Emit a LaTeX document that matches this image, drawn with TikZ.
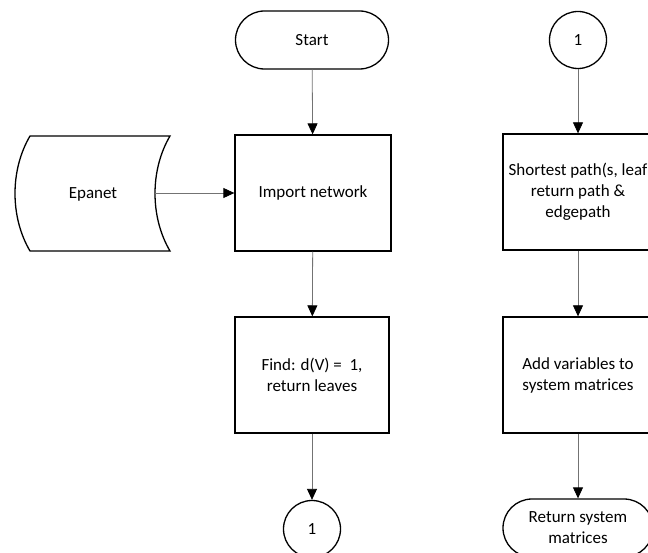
\documentclass[tikz,border=0pt]{standalone}
\usepackage{fontspec}
\setmainfont{Carlito}
\usetikzlibrary{arrows.meta,shapes.misc}
\begin{document}
\begin{tikzpicture}[x=1pt,y=-1pt,
  every node/.style={font=\fontsize{17}{21}\selectfont, align=center, inner sep=0pt},
  shape line/.style={draw=black, line width=1.3pt},
  procbox/.style={shape line, rectangle, minimum width=156pt, minimum height=116pt},
  termbox/.style={shape line, rounded rectangle, minimum width=153pt, minimum height=58pt},
  connbox/.style={shape line, circle, minimum size=57pt},
  flow/.style={draw=black!55, line width=0.8pt, -{Triangle[length=11pt,width=10pt,color=black]}}
]
\useasboundingbox (0,0) rectangle (648,553);
\clip (0,0) rectangle (648,553);

% left column
\node[termbox] (start) at (312,40) {Start};
\node[procbox] (import) at (313,193) {Import network};
\node[procbox, minimum width=154pt] (find) at (312,375) {Find: d(V) = \ 1,\\return leaves};
\node[connbox] (c1a) at (312,529) {1};

% stored data shape for the network file
\draw[shape line] (30,136) -- (170,136)
  .. controls (150,170) and (150,217) .. (170,251)
  -- (30,251)
  .. controls (10,217) and (10,170) .. (30,136) -- cycle;
\node (epanet) at (93,194) {Epanet};
\coordinate (epaR) at (155,193);

% right column
\node[connbox] (c1b) at (578,40) {1};
\node[procbox, minimum width=150pt] (short) at (578,192) {Shortest path(s, leaf\\return path \&\\edgepath};
\node[procbox, minimum width=150pt] (addvar) at (578,375) {Add variables to\\system matrices};
\node[termbox, minimum width=150pt] (ret) at (578,528) {Return system\\matrices};

% connectors
\draw[flow] (start) -- (import);
\draw[flow] (epaR) -- (import);
\draw[flow] (import) -- (find);
\draw[flow] (find) -- (c1a);
\draw[flow] (c1b) -- (short);
\draw[flow] (short) -- (addvar);
\draw[flow] (addvar) -- (ret);
\end{tikzpicture}
\end{document}
